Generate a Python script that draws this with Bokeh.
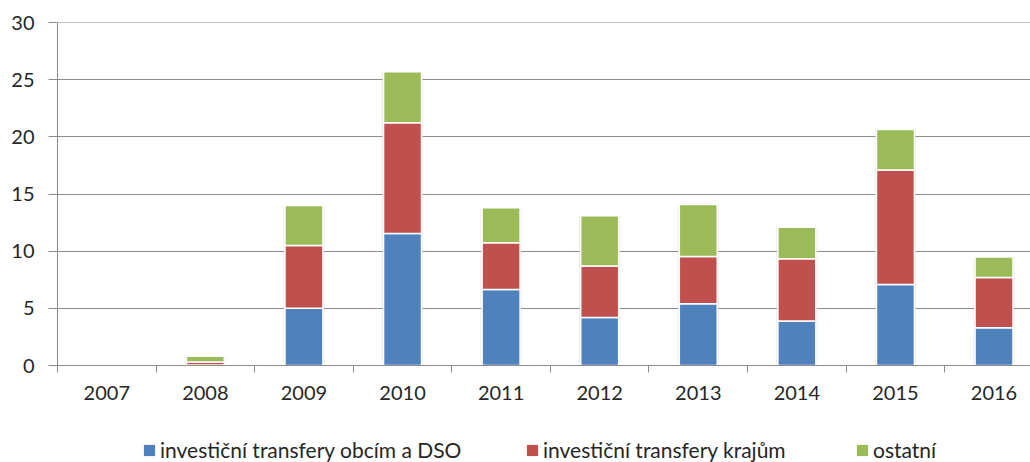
from bokeh.plotting import figure
from bokeh.layouts import column
from bokeh.models import ColumnDataSource, FixedTicker, Legend, LegendItem, Range1d
from bokeh.embed import file_html
from bokeh.resources import INLINE

years = ["2007", "2008", "2009", "2010", "2011", "2012", "2013", "2014", "2015", "2016"]
obce = [0.0, 0.05, 5.0, 11.55, 6.65, 4.2, 5.4, 3.9, 7.1, 3.3]
kraje = [0.0, 0.25, 5.5, 9.7, 4.1, 4.5, 4.15, 5.45, 10.0, 4.4]
ostatni = [0.0, 0.5, 3.5, 4.45, 3.05, 4.4, 4.55, 2.75, 3.55, 1.8]
series_labels = ["investiční transfery obcím a DSO", "investiční transfery krajům", "ostatní"]
colors = ["#4F81BD", "#C0504D", "#9BBB59"]
y_ticks = [0, 5, 10, 15, 20, 25, 30]

xs = list(range(len(years)))
totals = [a + b + c for a, b, c in zip(obce, kraje, ostatni)]
src = ColumnDataSource(dict(x=xs, obce=obce, kraje=kraje, ostatni=ostatni, total=totals))

FONT = "Lato"
TXT = "#262626"
GRID = "#8c8c8c"

# ---- main chart ----
p = figure(width=1030, height=410, output_backend="svg", toolbar_location=None,
           x_range=Range1d(-0.5, 9.37), y_range=Range1d(0, 30.02),
           min_border_left=57, min_border_right=0, min_border_top=22, min_border_bottom=45)
p.outline_line_color = None

# subtle shadow behind bars
p.vbar(x="x", top="total", width=0.42, bottom=0, source=src, fill_color="#cfcfcf",
       fill_alpha=0.35, line_color=None)

rs = p.vbar_stack(["obce", "kraje", "ostatni"], x="x", width=0.385, color=colors,
                  line_color="white", line_width=1.5, source=src)

p.xaxis.ticker = FixedTicker(ticks=xs, minor_ticks=[i - 0.5 for i in range(len(years) + 1)])
p.xaxis.major_label_overrides = {i: y for i, y in enumerate(years)}
p.xaxis.major_tick_out = 0
p.xaxis.major_tick_in = 0
p.xaxis.minor_tick_out = 7
p.xaxis.minor_tick_in = 0
p.xaxis.minor_tick_line_color = GRID
p.xaxis.axis_line_color = GRID
p.xaxis.major_label_standoff = 13

p.yaxis.ticker = FixedTicker(ticks=y_ticks, minor_ticks=[])
p.yaxis.major_tick_out = 9
p.yaxis.major_tick_in = 0
p.yaxis.major_tick_line_color = GRID
p.yaxis.axis_line_color = GRID
p.yaxis.major_label_standoff = 14

for ax in (p.xaxis[0], p.yaxis[0]):
    ax.major_label_text_font = FONT
    ax.major_label_text_font_size = "20px"
    ax.major_label_text_color = TXT

p.xgrid.grid_line_color = None
p.ygrid.grid_line_color = GRID
p.ygrid.grid_line_width = 1

# ---- legend strip (frame is aligned with the chart's frame, left edge at 57px) ----
lg = figure(width=1030, height=52, output_backend="svg", toolbar_location=None,
            x_range=Range1d(0, 1), y_range=Range1d(0, 1),
            min_border_left=0, min_border_right=0, min_border_top=0, min_border_bottom=0)
lg.outline_line_color = None
lg.axis.visible = False
lg.grid.visible = False

legend_x = [85, 468, 798]
for lab, col, lx in zip(series_labels, colors, legend_x):
    # legend swatch source: a zero-height bar placed outside the visible range
    r = lg.vbar(x=[-5], top=[0], bottom=[0], width=0.1, fill_color=col, line_color=None)
    leg = Legend(items=[LegendItem(label=lab, renderers=[r])], location=(lx, 0),
                 orientation="horizontal", border_line_alpha=0, background_fill_alpha=0,
                 glyph_width=14, glyph_height=14, label_standoff=4, label_height=20,
                 padding=0, margin=0, spacing=0,
                 label_text_font=FONT, label_text_font_size="21px", label_text_color=TXT)
    lg.add_layout(leg)

layout = column(p, lg, spacing=0)
open("out.html", "w").write(file_html(layout, INLINE))
